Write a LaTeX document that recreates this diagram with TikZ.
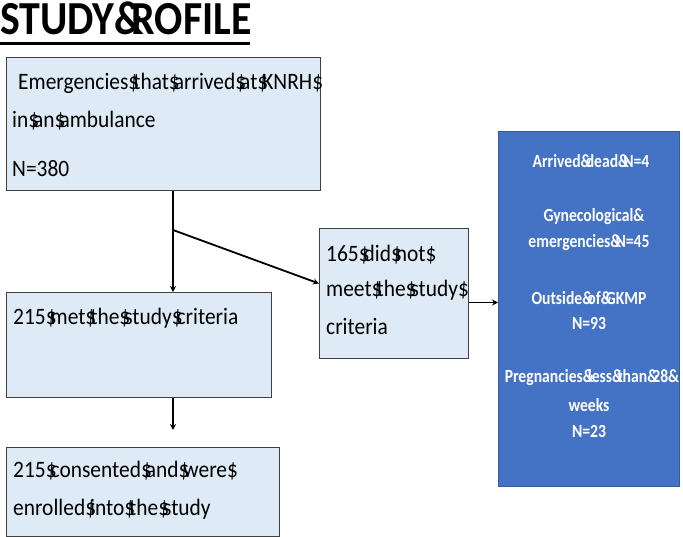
\documentclass[tikz,border=0pt]{standalone}
\usepackage{fontspec}
\usepackage{graphicx}
\setmainfont{Carlito}
\usetikzlibrary{arrows.meta}
\definecolor{boxfill}{HTML}{DEEBF7}
\definecolor{boxline}{HTML}{404040}
\definecolor{bluebox}{HTML}{4472C4}
\newcommand\dl{\$\kern-0.28em}
\newcommand\am{\&\kern-0.38em}
\newcommand\bt[1]{\scalebox{1.02}[1.12]{#1}}
\newcommand\wt[1]{\scalebox{0.87}[1.03]{#1}}
\tikzset{
  lbox/.style={draw=boxline, line width=1pt, fill=boxfill, inner sep=0pt},
  txt/.style={anchor=base west, inner sep=0pt, font=\fontsize{21}{24}\selectfont},
  wtxt/.style={anchor=base, inner sep=0pt, text=white, font=\bfseries\fontsize{18}{20}\selectfont},
  conn/.style={line width=1.8pt, -{Stealth[length=6pt,width=6pt]}}
}
\begin{document}
\begin{tikzpicture}[x=1pt,y=-1pt]
\useasboundingbox (0,0) rectangle (683,537);
% title
\node[anchor=base west, inner sep=0pt, font=\bfseries\fontsize{46}{50}\selectfont] (title) at (0,35) {\scalebox{0.91}[1.03]{STUDY\&\kern-0.3emROFILE}};
\draw[line width=3pt] (0,43.5) -- (250,43.5);
% boxes
\node[lbox, minimum width=314pt, minimum height=133pt, anchor=north west] (b1) at (6,57) {};
\node[lbox, minimum width=265pt, minimum height=105pt, anchor=north west] (b2) at (6,292) {};
\node[lbox, minimum width=149pt, minimum height=130pt, anchor=north west] (b3) at (319,228) {};
\node[lbox, minimum width=273pt, minimum height=89pt, anchor=north west] (b4) at (6,447) {};
\node[draw=bluebox!80!black, fill=bluebox, minimum width=181pt, minimum height=355pt, anchor=north west, inner sep=0pt] (b5) at (498,131) {};
% texts
\node[txt] (t1a) at (18,90) {\bt{Emergencies\dl that\dl arrived\dl at\dl KNRH\$}};
\node[txt] (t1b) at (12,128) {\bt{in\dl an\dl ambulance}};
\node[txt] (t1c) at (12,177) {\bt{N=380}};
\node[txt] (t2a) at (13,325) {\bt{215\dl met\dl the\dl study\dl criteria}};
\node[txt] (t3a) at (326,262) {\bt{165\dl did\dl not\$}};
\node[txt] (t3b) at (326,297) {\bt{meet\dl the\dl study\$}};
\node[txt] (t3c) at (326,335) {\bt{criteria}};
\node[txt] (t4a) at (13,477) {\bt{215\dl consented\dl and\dl were\$}};
\node[txt] (t4b) at (13,515) {\bt{enrolled\dl into\dl the\dl study}};
% blue texts
\node[wtxt] (w1) at (591,168) {\wt{Arrived\am dead\am N=4}};
\node[wtxt] (w2) at (594,222) {\wt{Gynecological\&}};
\node[wtxt] (w3) at (589,248) {\wt{emergencies\am N=45}};
\node[wtxt] (w4) at (589,305) {\wt{Outside\am of\am GKMP}};
\node[wtxt] (w5) at (589,330) {\wt{N=93}};
\node[wtxt] (w6) at (592,383) {\wt{Pregnancies\am less\am than\am 28\&}};
\node[wtxt] (w7) at (589,411) {\wt{weeks}};
\node[wtxt] (w8) at (589,437) {\wt{N=23}};
% connectors
\coordinate (split) at (173,230);
\draw[conn] (b1.south -| split) -- (b2.north -| split);
\draw[conn] (split) -- ([yshift=10pt]b3.west);
\draw[conn] ([yshift=-9pt]b3.east) -- ([yshift=-9pt]b3.east -| b5.west);
\draw[conn, shorten >=17pt] (b2.south -| split) -- (b4.north -| split);
\end{tikzpicture}
\end{document}
